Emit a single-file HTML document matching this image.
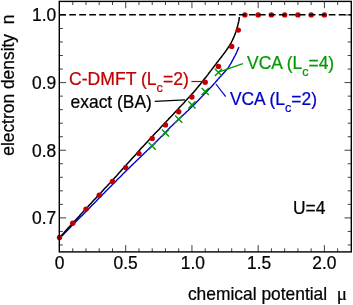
<!DOCTYPE html><html><head><meta charset="utf-8"><style>html,body{margin:0;padding:0;background:#fff}svg{display:block}</style></head><body><svg width="353" height="305" viewBox="0 0 353 305"><rect width="353" height="305" fill="#fff"/><defs><filter id="b" x="-5%" y="-5%" width="110%" height="110%"><feGaussianBlur stdDeviation="0.3"/></filter></defs><g filter="url(#b)"><path d="M59.50 1.4v6.8 M72.75 251.9v-3.6 M72.75 1.4v3.6 M85.99 251.9v-3.6 M85.99 1.4v3.6 M99.23 251.9v-3.6 M99.23 1.4v3.6 M112.48 251.9v-3.6 M112.48 1.4v3.6 M125.72 251.9v-6.8 M125.72 1.4v6.8 M138.97 251.9v-3.6 M138.97 1.4v3.6 M152.21 251.9v-3.6 M152.21 1.4v3.6 M165.46 251.9v-3.6 M165.46 1.4v3.6 M178.70 251.9v-3.6 M178.70 1.4v3.6 M191.95 251.9v-6.8 M191.95 1.4v6.8 M205.19 251.9v-3.6 M205.19 1.4v3.6 M218.44 251.9v-3.6 M218.44 1.4v3.6 M231.69 251.9v-3.6 M231.69 1.4v3.6 M244.93 251.9v-3.6 M244.93 1.4v3.6 M258.17 251.9v-6.8 M258.17 1.4v6.8 M271.42 251.9v-3.6 M271.42 1.4v3.6 M284.66 251.9v-3.6 M284.66 1.4v3.6 M297.91 251.9v-3.6 M297.91 1.4v3.6 M311.15 251.9v-3.6 M311.15 1.4v3.6 M324.40 251.9v-6.8 M324.40 1.4v6.8 M337.64 251.9v-3.6 M337.64 1.4v3.6 M59.3 244.96h3.6 M351.3 244.96h-3.6 M59.3 231.43h3.6 M351.3 231.43h-3.6 M59.3 217.90h6.8 M351.3 217.90h-6.8 M59.3 204.37h3.6 M351.3 204.37h-3.6 M59.3 190.84h3.6 M351.3 190.84h-3.6 M59.3 177.31h3.6 M351.3 177.31h-3.6 M59.3 163.78h3.6 M351.3 163.78h-3.6 M59.3 150.25h6.8 M351.3 150.25h-6.8 M59.3 136.72h3.6 M351.3 136.72h-3.6 M59.3 123.19h3.6 M351.3 123.19h-3.6 M59.3 109.66h3.6 M351.3 109.66h-3.6 M59.3 96.13h3.6 M351.3 96.13h-3.6 M59.3 82.60h6.8 M351.3 82.60h-6.8 M59.3 69.07h3.6 M351.3 69.07h-3.6 M59.3 55.54h3.6 M351.3 55.54h-3.6 M59.3 42.01h3.6 M351.3 42.01h-3.6 M59.3 28.48h3.6 M351.3 28.48h-3.6 M59.3 14.95h6.8 M351.3 14.95h-6.8" stroke="#000" stroke-width="0.75" fill="none"/><path d="M59.5 238.4 L61.1 236.8 L63.2 234.7 L65.7 232.1 L68.5 229.3 L71.4 226.3 L74.4 223.3 L77.3 220.3 L80.0 217.6 L82.6 214.9 L85.3 212.2 L88.1 209.4 L90.8 206.6 L93.4 203.9 L95.9 201.4 L98.1 199.1 L100.0 197.2 L101.5 195.7 L102.5 194.6 L103.3 193.8 L104.0 193.2 L104.6 192.5 L105.3 191.8 L106.3 190.8 L107.6 189.5 L109.3 187.8 L111.3 185.7 L113.5 183.5 L115.8 181.2 L118.2 178.8 L120.6 176.4 L122.9 174.1 L125.0 172.0 L127.0 170.0 L128.9 168.2 L130.8 166.3 L132.6 164.5 L134.5 162.8 L136.3 161.0 L138.1 159.2 L140.0 157.4 L142.0 155.5 L144.0 153.5 L146.1 151.5 L148.2 149.5 L150.2 147.5 L152.1 145.7 L153.9 144.0 L155.4 142.5 L156.7 141.2 L157.7 140.2 L158.7 139.3 L159.4 138.5 L160.2 137.8 L160.9 137.0 L161.7 136.3 L162.5 135.4 L163.4 134.5 L164.3 133.5 L165.2 132.6 L166.1 131.7 L167.0 130.7 L167.9 129.7 L168.9 128.7 L170.0 127.6 L171.1 126.5 L172.3 125.4 L173.4 124.3 L174.7 123.1 L175.9 121.9 L177.2 120.7 L178.6 119.4 L180.0 118.1 L181.5 116.7 L183.2 115.1 L184.9 113.5 L186.6 111.8 L188.4 110.2 L190.0 108.6 L191.6 107.1 L192.9 105.8 L194.0 104.7 L195.0 103.7 L195.9 102.8 L196.7 101.9 L197.5 101.1 L198.2 100.4 L199.0 99.6 L199.8 98.7 L200.7 97.8 L201.5 96.9 L202.4 96.0 L203.2 95.2 L204.1 94.3 L205.0 93.4 L205.8 92.5 L206.7 91.6 L207.6 90.7 L208.5 89.8 L209.3 88.8 L210.2 87.9 L211.1 87.0 L212.0 86.1 L212.8 85.2 L213.6 84.3 L214.4 83.4 L215.1 82.6 L215.8 81.8 L216.5 81.0 L217.2 80.2 L217.9 79.4 L218.6 78.6 L219.3 77.8 L220.0 77.0 L220.8 76.2 L221.5 75.4 L222.3 74.6 L223.0 73.8 L223.7 73.0 L224.4 72.2 L225.0 71.5 L225.6 70.8 L226.1 70.2 L226.6 69.7 L227.0 69.2 L227.5 68.6 L228.0 68.0 L228.5 67.3 L229.0 66.5 L229.6 65.6 L230.2 64.5 L230.9 63.3 L231.6 62.1 L232.2 60.9 L232.9 59.7 L233.5 58.6 L234.0 57.6 L234.5 56.7 L234.9 56.0 L235.2 55.2 L235.6 54.6 L235.9 53.9 L236.2 53.3 L236.5 52.7 L236.8 52.0 L237.1 51.3 L237.4 50.6 L237.7 49.8 L238.1 49.1 L238.3 48.4 L238.6 47.8 L238.8 47.3 L238.9 47.0" stroke="#0000c8" stroke-width="1.4" fill="none" stroke-linejoin="round"/><path d="M59.5 237.5 L60.5 236.4 L61.9 234.9 L63.5 233.2 L65.3 231.2 L67.2 229.1 L69.1 227.0 L71.0 225.0 L72.8 223.1 L74.4 221.3 L76.1 219.5 L77.7 217.7 L79.4 215.9 L81.0 214.1 L82.7 212.3 L84.3 210.5 L86.0 208.7 L87.7 206.9 L89.3 205.1 L90.9 203.4 L92.6 201.6 L94.2 199.8 L95.9 198.1 L97.5 196.3 L99.2 194.5 L100.9 192.7 L102.5 190.9 L104.2 189.1 L105.9 187.3 L107.6 185.5 L109.2 183.7 L110.9 182.0 L112.5 180.2 L114.0 178.5 L115.5 176.9 L116.9 175.4 L118.3 173.8 L119.7 172.2 L121.3 170.4 L123.0 168.5 L125.0 166.3 L127.3 163.8 L129.8 161.0 L132.5 158.0 L135.4 154.9 L138.2 151.7 L141.0 148.6 L143.7 145.7 L146.2 143.0 L148.5 140.5 L150.8 138.0 L153.1 135.6 L155.2 133.3 L157.2 131.2 L159.2 129.2 L160.9 127.3 L162.5 125.6 L163.8 124.2 L164.8 123.1 L165.6 122.3 L166.3 121.5 L167.0 120.8 L167.8 120.0 L168.7 118.9 L170.0 117.6 L171.6 115.9 L173.5 113.9 L175.5 111.7 L177.7 109.4 L179.8 107.1 L181.9 104.9 L183.8 102.9 L185.5 101.1 L186.9 99.6 L188.1 98.3 L189.2 97.1 L190.2 96.0 L191.1 95.0 L192.0 93.9 L193.0 92.9 L194.0 91.7 L195.1 90.5 L196.1 89.3 L197.1 88.0 L198.1 86.8 L199.2 85.5 L200.3 84.2 L201.4 82.8 L202.5 81.4 L203.7 79.8 L205.1 78.1 L206.5 76.4 L207.9 74.6 L209.2 72.8 L210.5 71.1 L211.7 69.6 L212.7 68.3 L213.5 67.2 L214.2 66.3 L214.7 65.6 L215.2 65.0 L215.7 64.4 L216.1 63.8 L216.5 63.2 L217.0 62.6 L217.5 61.9 L218.1 61.2 L218.6 60.6 L219.1 59.9 L219.6 59.2 L220.1 58.6 L220.7 57.9 L221.2 57.2 L221.7 56.5 L222.3 55.8 L222.8 55.1 L223.4 54.3 L223.9 53.6 L224.5 52.9 L225.0 52.2 L225.5 51.5 L226.0 50.8 L226.5 50.1 L226.9 49.5 L227.4 48.8 L227.8 48.1 L228.2 47.5 L228.6 46.9 L229.0 46.3 L229.4 45.7 L229.7 45.2 L230.0 44.7 L230.3 44.3 L230.5 43.8 L230.8 43.3 L231.1 42.8 L231.4 42.2 L231.7 41.6 L232.0 41.0 L232.4 40.3 L232.7 39.6 L233.0 38.9 L233.4 38.2 L233.7 37.5 L234.0 36.8 L234.3 36.1 L234.6 35.3 L234.9 34.5 L235.2 33.7 L235.5 32.9 L235.8 32.1 L236.1 31.3 L236.3 30.6 L236.5 29.9 L236.7 29.3 L236.9 28.8 L237.0 28.2 L237.2 27.6 L237.3 27.1 L237.4 26.5 L237.6 25.9 L237.8 25.3 L237.9 24.6 L238.1 23.9 L238.3 23.2 L238.5 22.5 L238.6 21.8 L238.8 21.2 L238.9 20.6 L239.0 20.0 L239.1 19.5 L239.2 19.0 L239.2 18.5 L239.3 18.0 L239.3 17.6 L239.4 17.3 L239.4 17.0" stroke="#000" stroke-width="1.5" fill="none" stroke-linejoin="round"/><path d="M154.8 101.4L185 99.8" stroke="#000" stroke-width="1.2" fill="none"/><path d="M191.4 81.5H205" stroke="#c00000" stroke-width="1.2" fill="none"/><path d="M218.6 72.1L242.9 63.6" stroke="#009900" stroke-width="1.2" fill="none"/><path d="M215.9 84L225.7 96.7" stroke="#0000c8" stroke-width="1.2" fill="none"/><path d="M148.6 142.6l7.2 7.2M148.6 149.8l7.2 -7.2 M161.9 129.4l7.2 7.2M161.9 136.6l7.2 -7.2 M175.1 115.6l7.2 7.2M175.1 122.8l7.2 -7.2 M188.3 101.2l7.2 7.2M188.3 108.4l7.2 -7.2 M201.6 87.9l7.2 7.2M201.6 95.1l7.2 -7.2 M214.8 68.7l7.2 7.2M214.8 75.9l7.2 -7.2" stroke="#009900" stroke-width="1.4" fill="none"/><circle cx="59.5" cy="237.5" r="2.7" fill="#c00000"/><circle cx="72.7" cy="223.3" r="2.7" fill="#c00000"/><circle cx="86.0" cy="209.1" r="2.7" fill="#c00000"/><circle cx="99.2" cy="195.2" r="2.7" fill="#c00000"/><circle cx="112.5" cy="181.5" r="2.7" fill="#c00000"/><circle cx="125.7" cy="167.6" r="2.7" fill="#c00000"/><circle cx="139.0" cy="153.6" r="2.7" fill="#c00000"/><circle cx="152.2" cy="138.4" r="2.7" fill="#c00000"/><circle cx="165.5" cy="124.9" r="2.7" fill="#c00000"/><circle cx="178.7" cy="111.7" r="2.7" fill="#c00000"/><circle cx="191.9" cy="97.0" r="2.7" fill="#c00000"/><circle cx="205.2" cy="82.2" r="2.7" fill="#c00000"/><circle cx="218.4" cy="66.4" r="2.7" fill="#c00000"/><circle cx="231.7" cy="46.4" r="2.7" fill="#c00000"/><circle cx="238.3" cy="30.1" r="2.7" fill="#c00000"/><circle cx="244.9" cy="14.9" r="2.7" fill="#c00000"/><circle cx="258.2" cy="14.9" r="2.7" fill="#c00000"/><circle cx="271.4" cy="14.9" r="2.7" fill="#c00000"/><circle cx="284.7" cy="14.9" r="2.7" fill="#c00000"/><circle cx="297.9" cy="14.9" r="2.7" fill="#c00000"/><circle cx="311.2" cy="14.9" r="2.7" fill="#c00000"/><circle cx="324.4" cy="14.9" r="2.7" fill="#c00000"/><path d="M59.3 14.75H351.3" stroke="#000" stroke-width="1.4" stroke-dasharray="6.7 3.28" fill="none"/><rect x="59.3" y="1.4" width="292.0" height="250.5" fill="none" stroke="#000" stroke-width="1.4"/><g style="font-family:'Liberation Sans',sans-serif;font-size:17.8px" opacity="0.999" stroke-width="0.25"><text transform="translate(56.3 224.4) scale(0.978 1)" text-anchor="end" stroke="#000" xml:space="preserve">0.7</text><text transform="translate(56.3 156.7) scale(0.978 1)" text-anchor="end" stroke="#000" xml:space="preserve">0.8</text><text transform="translate(56.3 89.1) scale(0.978 1)" text-anchor="end" stroke="#000" xml:space="preserve">0.9</text><text transform="translate(56.3 21.4) scale(0.978 1)" text-anchor="end" stroke="#000" xml:space="preserve">1.0</text><text transform="translate(59.5 268.6) scale(0.978 1)" text-anchor="middle" stroke="#000" xml:space="preserve">0</text><text transform="translate(125.7 268.6) scale(0.978 1)" text-anchor="middle" stroke="#000" xml:space="preserve">0.5</text><text transform="translate(192.9 268.6) scale(0.978 1)" text-anchor="middle" stroke="#000" xml:space="preserve">1.0</text><text transform="translate(259.2 268.6) scale(0.978 1)" text-anchor="middle" stroke="#000" xml:space="preserve">1.5</text><text transform="translate(324.4 268.6) scale(0.978 1)" text-anchor="middle" stroke="#000" xml:space="preserve">2.0</text><text transform="translate(187.9 300.2) scale(0.978 1)" text-anchor="start" stroke="#000" xml:space="preserve">chemical potential  <tspan style="font-family:'Liberation Serif',serif;font-size:19.5px">μ</tspan></text><text transform="translate(13.5 155.8) rotate(-90) scale(0.978 1.0)" text-anchor="start" stroke="#000" xml:space="preserve">electron density  n</text><text transform="translate(69 84.5) scale(0.988 1)" text-anchor="start" fill="#c00000" stroke="#c00000" xml:space="preserve">C-DMFT (L<tspan dy="7" style="font-size:12.9px">c</tspan><tspan dy="-7">=2)</tspan></text><text transform="translate(70.6 107.6) scale(0.978 1)" text-anchor="start" stroke="#000" xml:space="preserve">exact (BA)</text><text transform="translate(247.1 69.4) scale(0.978 1)" text-anchor="start" fill="#009900" stroke="#009900" xml:space="preserve">VCA (L<tspan dy="7" style="font-size:12.9px">c</tspan><tspan dy="-7">=4)</tspan></text><text transform="translate(229.9 105.1) scale(0.978 1)" text-anchor="start" fill="#0000c8" stroke="#0000c8" xml:space="preserve">VCA (L<tspan dy="7" style="font-size:12.9px">c</tspan><tspan dy="-7">=2)</tspan></text><text transform="translate(293 213.7) scale(0.978 1)" text-anchor="start" stroke="#000" xml:space="preserve">U=4</text></g></g></svg></body></html>
